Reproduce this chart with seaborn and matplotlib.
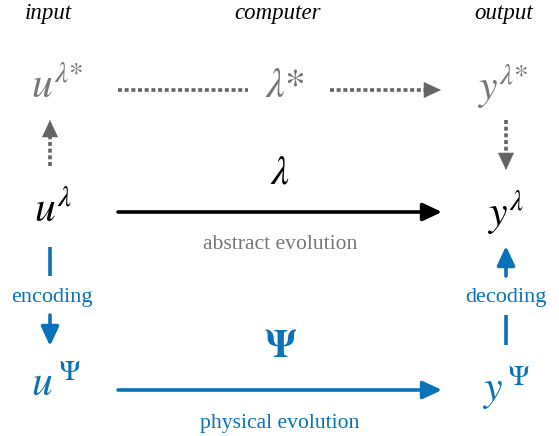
import matplotlib
matplotlib.use("Agg")
import matplotlib.pyplot as plt
import seaborn as sns
import pandas as pd

# ---- content ----
headers = ["input", "computer", "output"]
top_nodes = [r"$u^{\lambda\!*}$", r"$\lambda{*}$", r"$y^{\lambda\!*}$"]
mid_nodes = [r"$u^{\lambda}$", r"$y^{\lambda}$"]
bot_nodes = [r"$u^{\,\Psi}$", r"$y^{\,\Psi}$"]
mid_op = r"$\lambda$"
bot_op = r"$\mathbf{\Psi}$"
mid_caption = "abstract evolution"
bot_caption = "physical evolution"
side_labels = ["encoding", "decoding"]

# ---- styles / layout ----
GRAY_T = "#777777"
GRAY_A = "#646464"
BLUE = "#0a72b8"
BLACK = "#000000"

sns.set_theme(style="white")
plt.rcParams["mathtext.fontset"] = "stix"
plt.rcParams["font.family"] = ["Liberation Serif", "DejaVu Serif"]

fig = plt.figure(figsize=(5.59, 4.36), dpi=100)
ax = fig.add_axes([0, 0, 1, 1])
ax.set_xlim(0, 559)
ax.set_ylim(436, 0)
ax.axis("off")

XL, XC, XR = 50, 280, 506
hx = [48, 278, 504]

# headers
for t, x in zip(headers, hx):
    ax.text(x, 14, t, ha="center", va="center", fontsize=16.5, style="italic", color=BLACK)

# top row
ax.text(57, 87, top_nodes[0], ha="center", va="center", fontsize=30, color=GRAY_T)
ax.text(285, 87, top_nodes[1], ha="center", va="center", fontsize=30, color=GRAY_T)
ax.text(502, 87, top_nodes[2], ha="center", va="center", fontsize=30, color=GRAY_T)

# middle row
ax.text(53, 211, mid_nodes[0], ha="center", va="center", fontsize=30, color=BLACK)
ax.text(505, 213, mid_nodes[1], ha="center", va="center", fontsize=30, color=BLACK)
ax.text(XC, 174, mid_op, ha="center", va="center", fontsize=29, color=BLACK)
ax.text(XC, 244, mid_caption, ha="center", va="center", fontsize=15.6, color=GRAY_T)

# bottom row
ax.text(56, 386, bot_nodes[0], ha="center", va="center", fontsize=30, color=BLUE)
ax.text(506, 388, bot_nodes[1], ha="center", va="center", fontsize=30, color=BLUE)
ax.text(XC, 347, bot_op, ha="center", va="center", fontsize=28, color=BLUE)
ax.text(XC, 423, bot_caption, ha="center", va="center", fontsize=15.6, color=BLUE)

# side labels
ax.text(52, 297, side_labels[0], ha="center", va="center", fontsize=16, color=BLUE)
ax.text(XR, 297, side_labels[1], ha="center", va="center", fontsize=16, color=BLUE)

HEAD = "-|>,head_length=0.58,head_width=0.27"
LW = 2.6


def solid_arrow(x0, y0, x1, y1, c):
    ax.annotate("", xy=(x1, y1), xytext=(x0, y0),
                arrowprops=dict(arrowstyle=HEAD, color=c, lw=LW,
                                shrinkA=0, shrinkB=0, mutation_scale=20))


def dotted_arrow(x0, y0, x1, y1, c, head=True):
    dx, dy = x1 - x0, y1 - y0
    L = (dx ** 2 + dy ** 2) ** 0.5
    cut = 10 if head else 0
    segs = pd.DataFrame({"x": [x0, x1 - dx / L * cut], "y": [y0, y1 - dy / L * cut]})
    sns.lineplot(data=segs, x="x", y="y", ax=ax, color=c, lw=LW,
                 linestyle=(0, (1.1, 0.75)), sort=False, estimator=None)
    if head:
        ax.annotate("", xy=(x1, y1), xytext=(x1 - dx / L * 14, y1 - dy / L * 14),
                    arrowprops=dict(arrowstyle=HEAD, color=c, lw=0.5,
                                    shrinkA=0, shrinkB=0, mutation_scale=20))


# top dotted arrows
dotted_arrow(118, 90, 248, 90, GRAY_A, head=False)
dotted_arrow(330, 90, 441, 90, GRAY_A)
dotted_arrow(XL, 166, XL, 120, GRAY_A)
dotted_arrow(XR, 120, XR, 170, GRAY_A)

# black abstract arrow
solid_arrow(118, 212, 442, 212, BLACK)

# blue encoding / decoding
ax.plot([XL, XL], [247, 276], color=BLUE, lw=LW, solid_capstyle="butt")
solid_arrow(XL, 315, XL, 346, BLUE)
solid_arrow(XR, 276, XR, 246, BLUE)
ax.plot([XR, XR], [315, 345], color=BLUE, lw=LW, solid_capstyle="butt")

# blue physical arrow
solid_arrow(118, 390, 442, 390, BLUE)

ax.set_xlabel("")
ax.set_ylabel("")
fig.savefig("out.png", dpi=100)
